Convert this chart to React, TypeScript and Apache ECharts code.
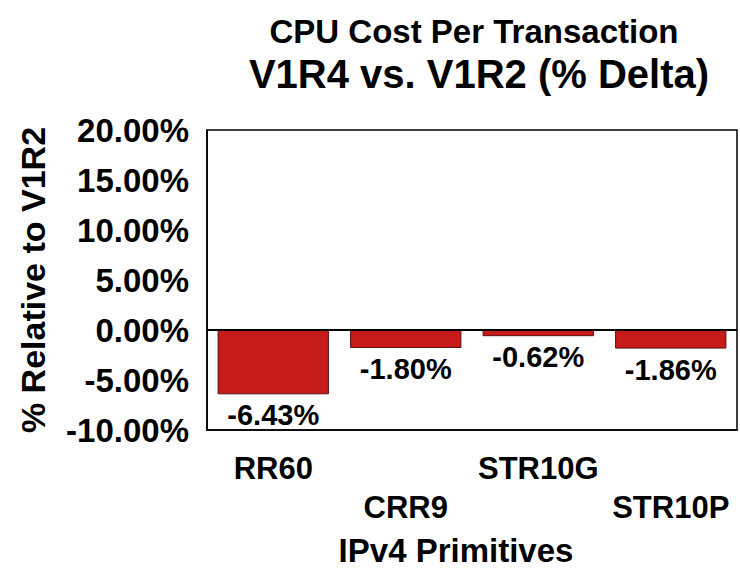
import React, { useEffect, useRef } from "react";
import * as echarts from "echarts";

const categories = ["RR60", "CRR9", "STR10G", "STR10P"];
const deltas = [-6.43, -1.8, -0.62, -1.86];
const titleLine1 = "CPU Cost Per Transaction";
const titleLine2 = "V1R4 vs. V1R2 (% Delta)";
const yAxisName = "% Relative to V1R2";
const xAxisName = "IPv4 Primitives";

const FONT = "'Liberation Sans', Arial, Helvetica, sans-serif";

export default function App() {
  const ref = useRef<HTMLDivElement>(null);
  useEffect(() => {
    if (!ref.current) return;
    const chart = echarts.init(ref.current, null, { renderer: "svg" });
    chart.setOption({
      animation: false,
      backgroundColor: "#ffffff",
      textStyle: { fontFamily: FONT },
      graphic: [
        {
          type: "text",
          style: {
            x: 474,
            y: 31,
            text: titleLine1,
            textAlign: "center",
            textVerticalAlign: "middle",
            font: `bold 33px ${FONT}`,
            fill: "#000",
          },
        },
        {
          type: "text",
          style: {
            x: 479,
            y: 74,
            text: titleLine2,
            textAlign: "center",
            textVerticalAlign: "middle",
            font: `bold 40px ${FONT}`,
            fill: "#000",
          },
        },
      ],
      grid: {
        left: 207,
        top: 130,
        right: 3,
        bottom: 142,
        show: true,
        borderColor: "#000",
        borderWidth: 1.5,
        backgroundColor: "#fff",
      },
      xAxis: {
        type: "category",
        data: categories,
        axisLine: { onZero: false, lineStyle: { color: "#000", width: 1.5 } },
        axisTick: { show: false },
        axisLabel: {
          interval: 0,
          margin: 19,
          color: "#000",
          fontWeight: "bold",
          fontSize: 31,
          lineHeight: 39,
          fontFamily: FONT,
          formatter: (v: string, i: number) => (i % 2 === 1 ? "\n" + v : v),
        },
        name: xAxisName,
        nameLocation: "middle",
        nameGap: 104,
        nameTextStyle: {
          color: "#000",
          fontWeight: "bold",
          fontSize: 33,
          fontFamily: FONT,
          padding: [0, 32, 0, 0],
        },
      },
      yAxis: {
        type: "value",
        min: -10,
        max: 20,
        interval: 5,
        axisLine: { show: true, lineStyle: { color: "#000", width: 1.5 } },
        axisTick: { show: false },
        splitLine: { show: false },
        axisLabel: {
          margin: 18,
          color: "#000",
          fontWeight: "bold",
          fontSize: 33,
          fontFamily: FONT,
          formatter: (v: number) => v.toFixed(2) + "%",
        },
        name: yAxisName,
        nameLocation: "middle",
        nameGap: 157,
        nameTextStyle: {
          color: "#000",
          fontWeight: "bold",
          fontSize: 34,
          fontFamily: FONT,
        },
      },
      series: [
        {
          type: "bar",
          data: deltas,
          barCategoryGap: "16%",
          itemStyle: { color: "#C61A1B", borderColor: "#5a1010", borderWidth: 1 },
          label: {
            show: true,
            position: "bottom",
            distance: 6,
            color: "#000",
            fontWeight: "bold",
            fontSize: 29,
            lineHeight: 30,
            fontFamily: FONT,
            formatter: (p: any) => p.value.toFixed(2) + "%",
          },
          markLine: {
            silent: true,
            symbol: "none",
            label: { show: false },
            lineStyle: { color: "#000", width: 2, type: "solid" },
            data: [{ yAxis: 0 }],
          },
        },
      ],
    });
    return () => chart.dispose();
  }, []);
  return (
    <div
      ref={ref}
      style={{ position: "fixed", left: 0, top: 0, width: 740, height: 572 }}
    />
  );
}
